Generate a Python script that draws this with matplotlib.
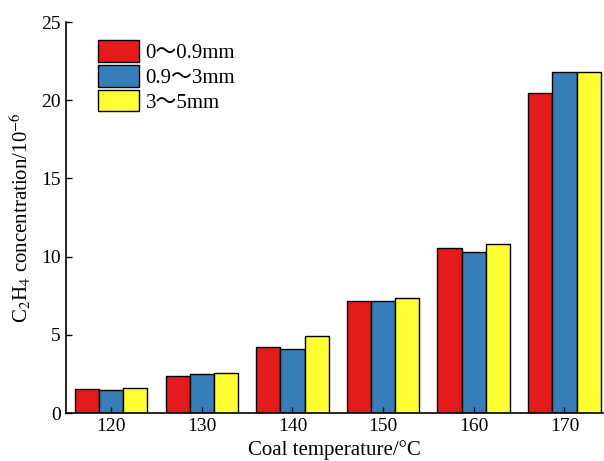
import matplotlib
matplotlib.use("Agg")
import matplotlib.pyplot as plt
import numpy as np

# Data
temps = ["120", "130", "140", "150", "160", "170"]
size_labels = ["0～0.9mm", "0.9～3mm", "3～5mm"]
c2h4_small = [1.53, 2.37, 4.22, 7.16, 10.55, 20.44]
c2h4_mid = [1.47, 2.49, 4.09, 7.16, 10.31, 21.82]
c2h4_large = [1.60, 2.56, 4.92, 7.35, 10.82, 21.80]

colors = ["#E41A1C", "#377EB8", "#FFFF33"]

plt.rcParams["font.family"] = ["Liberation Serif", "Noto Sans CJK SC", "DejaVu Serif"]
plt.rcParams["mathtext.fontset"] = "stix"

fig = plt.figure(figsize=(6.04, 4.61), dpi=100)
ax = fig.add_axes([0.109, 0.104, 0.89, 0.848])

x = np.arange(len(temps))
w = 0.267
series = [c2h4_small, c2h4_mid, c2h4_large]
for i, vals in enumerate(series):
    ax.bar(x + (i - 1) * w, vals, width=w, color=colors[i],
           edgecolor="black", linewidth=1.0, label=size_labels[i])

ax.set_xlim(-0.5, 5.43)
ax.set_ylim(0, 25)
ax.set_xticks(x)
ax.set_xticklabels(temps)
ax.set_yticks([0, 5, 10, 15, 20, 25])
ax.tick_params(direction="in", labelsize=14, length=4, width=1)
ax.spines["top"].set_visible(False)
ax.spines["right"].set_visible(False)
ax.spines["left"].set_linewidth(1.2)
ax.spines["bottom"].set_linewidth(1.2)

ax.set_xlabel("Coal temperature/°C", fontsize=15, labelpad=4)
ax.set_ylabel("C$_2$H$_4$ concentration/10$^{-6}$", fontsize=15, labelpad=6)

leg = ax.legend(loc="upper left", bbox_to_anchor=(0.036, 0.985), frameon=False,
                fontsize=15, handlelength=2.0, handleheight=1.2,
                labelspacing=0.1, handletextpad=0.3, borderaxespad=0.2)

fig.savefig("out.png", dpi=100)
